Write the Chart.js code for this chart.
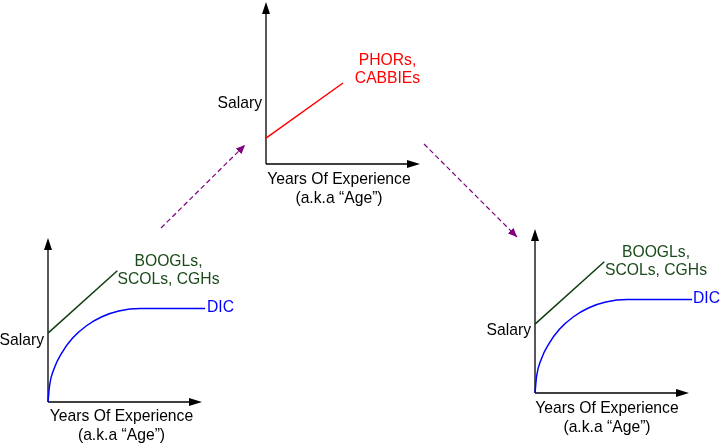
<!DOCTYPE html>
<html>
<head>
<meta charset="utf-8">
<script src="https://cdn.jsdelivr.net/npm/chart.js@4"></script>
<style>
  html, body { margin: 0; padding: 0; background: #fff; overflow: hidden; }
  #stage { position: relative; width: 720px; height: 446px; overflow: hidden; background: #fff;
           font-family: "Liberation Sans", Arial, sans-serif; font-size: 15.7px; }
  .plot { position: absolute; }
  .lbl { position: absolute; line-height: 18px; white-space: nowrap; }
  .axis-x { line-height: 19px; text-align: center; width: 200px; color: #000; }
  .salary { text-align: right; width: 100px; color: #000; }
  .center { text-align: center; width: 200px; }
  .green { color: #1b4a1b; }
  .blue { color: #0000ff; }
  .red { color: #ff0000; }
  svg { position: absolute; left: 0; top: 0; }
</style>
</head>
<body>
<div id="stage">
  <div class="plot" style="left:38px;top:228px;width:180px;height:184px"><canvas id="chart-left" width="180" height="184"></canvas></div>
  <div class="plot" style="left:256px;top:-8px;width:180px;height:182px"><canvas id="chart-top" width="180" height="182"></canvas></div>
  <div class="plot" style="left:525px;top:219px;width:180px;height:184px"><canvas id="chart-right" width="180" height="184"></canvas></div>

  <svg width="720" height="446">
    <defs>
      <marker id="head" markerWidth="9" markerHeight="8" refX="9" refY="4" orient="auto" markerUnits="userSpaceOnUse">
        <path d="M0,0 L9,4 L0,8 z" fill="#800080"/>
      </marker>
    </defs>
    <line x1="161" y1="228" x2="245" y2="145" stroke="#800080" stroke-width="1.2" stroke-dasharray="5 3" marker-end="url(#head)"/>
    <line x1="424" y1="144" x2="517" y2="237" stroke="#800080" stroke-width="1.2" stroke-dasharray="5 3" marker-end="url(#head)"/>
  </svg>

  <!-- left chart -->
  <div class="lbl center green" style="left:68.5px;top:251.6px">BOOGLs,<br>SCOLs, CGHs</div>
  <div class="lbl blue" style="left:207px;top:297.6px">DIC</div>
  <div class="lbl salary" style="left:-56px;top:330.6px">Salary</div>
  <div class="lbl axis-x" style="left:21.5px;top:406px">Years Of Experience<br>(a.k.a “Age”)</div>

  <!-- top chart -->
  <div class="lbl center red" style="left:287.5px;top:50.6px">PHORs,<br>CABBIEs</div>
  <div class="lbl salary" style="left:162px;top:93.6px">Salary</div>
  <div class="lbl axis-x" style="left:239px;top:169px">Years Of Experience<br>(a.k.a “Age”)</div>

  <!-- right chart -->
  <div class="lbl center green" style="left:556px;top:242.6px">BOOGLs,<br>SCOLs, CGHs</div>
  <div class="lbl blue" style="left:693px;top:288.6px">DIC</div>
  <div class="lbl salary" style="left:431px;top:320.6px">Salary</div>
  <div class="lbl axis-x" style="left:507px;top:398px">Years Of Experience<br>(a.k.a “Age”)</div>
</div>

<script>
// Years of experience (0..10) vs salary (0..10).
const elitePayX = [0, 4.5];
const elitePaySalary = [4.2, 8.0];

const dicPayX = [0, 0.1, 0.4, 0.9, 1.6, 2.5, 3.5, 4.6, 6.0, 10.2];
const dicPaySalary = [0, 1.0, 2.05, 3.0, 3.9, 4.65, 5.2, 5.55, 5.7, 5.7];

const tradePayX = [0, 5.0];
const tradePaySalary = [1.6, 5.0];

const GREEN = '#0f3f0f';
const BLUE = '#0000ff';
const RED = '#ff0000';

function points(xs, ys) {
    return xs.map((x, i) => ({ x, y: ys[i] }));
}

// Black axes with filled arrowheads at the ends.
const axisArrows = {
    id: 'axisArrows',
    beforeDatasetsDraw(chart) {
        const { ctx, chartArea } = chart;
        const { left, right, top, bottom } = chartArea;
        ctx.save();
        ctx.strokeStyle = '#000';
        ctx.fillStyle = '#000';
        ctx.lineWidth = 1.3;
        ctx.beginPath();
        ctx.moveTo(left, bottom);
        ctx.lineTo(left, top + 8);
        ctx.moveTo(left, bottom);
        ctx.lineTo(right - 8, bottom);
        ctx.stroke();

        ctx.beginPath();
        ctx.moveTo(left, top);
        ctx.lineTo(left - 4, top + 12);
        ctx.lineTo(left + 4, top + 12);
        ctx.closePath();
        ctx.fill();

        ctx.beginPath();
        ctx.moveTo(right, bottom);
        ctx.lineTo(right - 13, bottom - 4);
        ctx.lineTo(right - 13, bottom + 4);
        ctx.closePath();
        ctx.fill();
        ctx.restore();
    },
};

function lineSet(data, color, curved) {
    return {
        data,
        borderColor: color,
        borderWidth: 1.5,
        pointRadius: 0,
        fill: false,
        clip: false,
        tension: curved ? 0.4 : 0,
        cubicInterpolationMode: curved ? 'monotone' : 'default',
    };
}

function makeChart(id, datasets) {
    return new Chart(document.getElementById(id), {
        type: 'line',
        data: { datasets },
        options: {
            responsive: false,
            animation: false,
            events: [],
            layout: { padding: { left: 10, top: 10, right: 16, bottom: 10 } },
            plugins: { legend: { display: false }, tooltip: { enabled: false } },
            scales: {
                x: { type: 'linear', min: 0, max: 10, display: false },
                y: { type: 'linear', min: 0, max: 10, display: false },
            },
        },
        plugins: [axisArrows],
    });
}

makeChart('chart-left', [
    lineSet(points(elitePayX, elitePaySalary), GREEN, false),
    lineSet(points(dicPayX, dicPaySalary), BLUE, true),
]);

makeChart('chart-top', [
    lineSet(points(tradePayX, tradePaySalary), RED, false),
]);

makeChart('chart-right', [
    lineSet(points(elitePayX, elitePaySalary), GREEN, false),
    lineSet(points(dicPayX, dicPaySalary), BLUE, true),
]);
</script>
</body>
</html>
